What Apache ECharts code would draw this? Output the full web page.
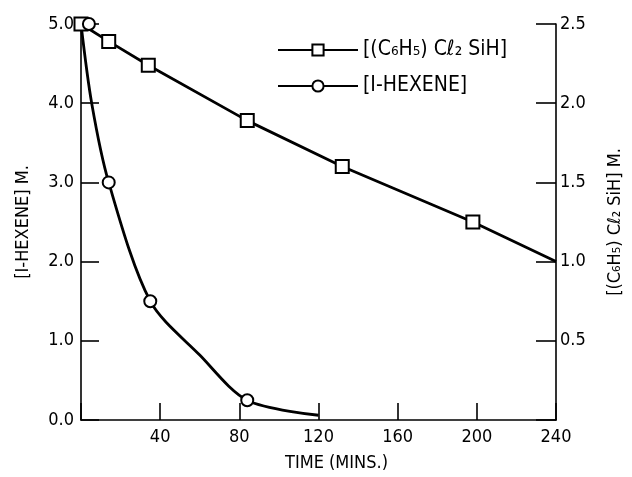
<!DOCTYPE html>
<html>
<head>
<meta charset="utf-8">
<script src="https://cdn.jsdelivr.net/npm/echarts@6/dist/echarts.min.js"></script>
<style>
html,body{margin:0;padding:0;background:#fff;}
#chart{width:632px;height:477px;}
</style>
</head>
<body>
<div id="chart"></div>
<script>
// ---- data ----
// [(C6H5)Cl2SiH] (right axis): time (min), concentration (M)
const silaneTime = [0, 14, 34, 84, 132, 198, 240];
const silaneConc = [2.5, 2.39, 2.24, 1.89, 1.6, 1.25, 1.0];
const silaneMarked = [true, true, true, true, true, true, false];
// [1-HEXENE] (left axis): points along the drawn curve
const hexeneTime = [0, 5.4, 14, 35, 60, 84, 120];
const hexeneConc = [5.0, 4.0, 3.0, 1.5, 0.82, 0.25, 0.06];
const hexeneMarked = [false, false, true, true, false, true, false];
// extra open circle drawn at the start
const hexeneStartTime = [4];
const hexeneStartConc = [5.0];
const xTicks = [0, 40, 80, 120, 160, 200, 240];
const leftTicks = [0, 1, 2, 3, 4, 5];
const rightTicks = [0, 0.5, 1, 1.5, 2, 2.5];

const FONT = "'DejaVu Sans Condensed', 'DejaVu Sans', sans-serif";
const chart = echarts.init(document.getElementById('chart'), null, {renderer: 'canvas'});

const silaneData = silaneTime.map((t, i) => ({
  value: [t, silaneConc[i]],
  symbol: silaneMarked[i] ? 'rect' : 'none'
}));
const hexeneData = hexeneTime.map((t, i) => ({
  value: [t, hexeneConc[i]],
  symbol: hexeneMarked[i] ? 'circle' : 'none'
}));
const hexeneStart = hexeneStartTime.map((t, i) => [t, hexeneStartConc[i]]);

const silaneLabel = '[(C₆H₅) Cℓ₂ SiH]';
const hexeneLabel = '[I-HEXENE]';

chart.setOption({
  animation: false,
  backgroundColor: '#fff',
  grid: {left: 81, right: 64, top: 24, bottom: 51, containLabel: false},
  legend: {
    data: ['silane', 'hexene'],
    orient: 'vertical',
    left: 272,
    top: 33,
    itemWidth: 80,
    itemHeight: 14,
    itemGap: 12,
    formatter: name => name === 'silane' ? silaneLabel : hexeneLabel,
    textStyle: {fontSize: 21, lineHeight: 24, fontFamily: FONT, color: '#000'}
  },
  xAxis: {
    type: 'value',
    min: 0, max: 240, interval: 40,
    name: 'TIME (MINS.)',
    nameLocation: 'middle',
    nameGap: 34,
    nameTextStyle: {fontSize: 18, fontFamily: FONT, color: '#000', padding: [0, 0, 0, 36]},
    axisLine: {lineStyle: {color: '#000', width: 1.6}},
    axisTick: {inside: true, length: 17, lineStyle: {color: '#000', width: 1.6}},
    axisLabel: {
      fontSize: 18, fontFamily: FONT, color: '#000', margin: 8,
      formatter: v => (xTicks.indexOf(v) > 0 ? String(v) : '')
    },
    splitLine: {show: false}
  },
  yAxis: [{
    type: 'value',
    min: 0, max: 5, interval: 1,
    name: '[I-HEXENE] M.',
    nameLocation: 'middle',
    nameGap: 49,
    nameTextStyle: {fontSize: 18, fontFamily: FONT, color: '#000'},
    axisLine: {show: true, lineStyle: {color: '#000', width: 1.6}},
    axisTick: {show: true, inside: true, length: 18, lineStyle: {color: '#000', width: 1.6}},
    axisLabel: {fontSize: 18, fontFamily: FONT, color: '#000', margin: 7,
      formatter: v => (leftTicks.indexOf(v) >= 0 ? v.toFixed(1) : '')},
    splitLine: {show: false}
  }, {
    type: 'value',
    position: 'right',
    min: 0, max: 2.5, interval: 0.5,
    name: '[(C₆H₅) Cℓ₂ SiH] M.',
    nameLocation: 'middle',
    nameRotate: 90,
    nameGap: 50,
    nameTextStyle: {fontSize: 18, fontFamily: FONT, color: '#000'},
    axisLine: {show: true, lineStyle: {color: '#000', width: 1.6}},
    axisTick: {show: true, inside: true, length: 20, lineStyle: {color: '#000', width: 1.6}},
    axisLabel: {fontSize: 18, fontFamily: FONT, color: '#000', margin: 4,
      formatter: v => (rightTicks.indexOf(v) > 0 ? v.toFixed(1) : '')},
    splitLine: {show: false}
  }],
  series: [{
    name: 'silane',
    type: 'line',
    yAxisIndex: 1,
    data: silaneData,
    symbol: 'rect',
    symbolSize: 13,
    lineStyle: {color: '#000', width: 2.8},
    itemStyle: {color: '#fff', borderColor: '#000', borderWidth: 2},
    z: 3
  }, {
    name: 'hexene',
    type: 'line',
    yAxisIndex: 0,
    data: hexeneData,
    smooth: 0.3,
    symbol: 'circle',
    symbolSize: 12,
    lineStyle: {color: '#000', width: 2.8},
    itemStyle: {color: '#fff', borderColor: '#000', borderWidth: 2},
    z: 3
  }, {
    name: 'hexeneStart',
    type: 'scatter',
    yAxisIndex: 0,
    data: hexeneStart,
    symbol: 'circle',
    symbolSize: 12,
    itemStyle: {color: '#fff', borderColor: '#000', borderWidth: 2, opacity: 1},
    z: 4
  }]
});
</script>
</body>
</html>
